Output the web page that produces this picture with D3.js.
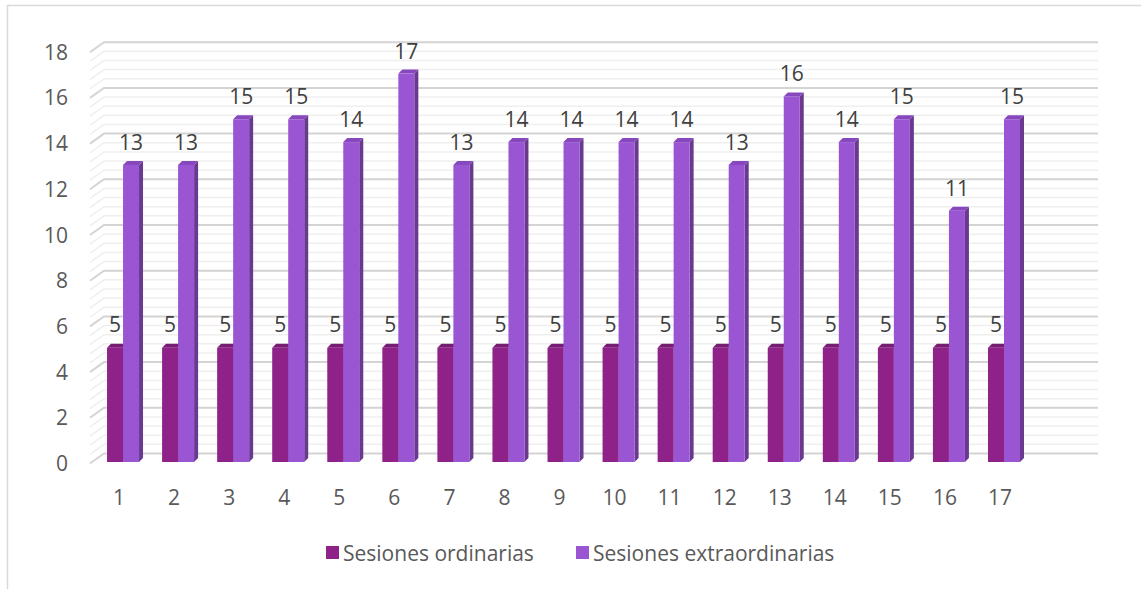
<!DOCTYPE html>
<html>
<head>
<meta charset="utf-8">
<script src="https://cdn.jsdelivr.net/npm/d3@7"></script>
<style>
  body { margin: 0; background: #fff; }
  text { font-family: "Open Sans", "DejaVu Sans", sans-serif; }
</style>
</head>
<body>
<div id="chart-area"></div>
<script>
// Data
// ****
const categories = ["1","2","3","4","5","6","7","8","9","10","11","12","13","14","15","16","17"]
const ordinarias = [5,5,5,5,5,5,5,5,5,5,5,5,5,5,5,5,5]
const extraordinarias = [13,13,15,15,14,17,13,14,14,14,14,13,16,14,15,11,15]
const seriesNames = ["Sesiones ordinarias", "Sesiones extraordinarias"]
const yTicks = [0,2,4,6,8,10,12,14,16,18]

// Config
// ******
const width = 1141, height = 589
const colors = {
  ord:  {front: "#8e2289", top: "#761c72", side: "#5f175b"},
  ext:  {front: "#9a56d2", top: "#8748bd", side: "#68398f"}
}
const depth = 4, barW = 16
const wallDx = 14, wallDy = 10
const fontSize = "21px"

const svg = d3.select("#chart-area")
  .append("svg")
    .attr("width", width)
    .attr("height", height)

// outer frame (right and bottom edges fall outside the picture)
svg.append("rect")
  .attr("x", 7.5).attr("y", 5.5)
  .attr("width", 1200).attr("height", 700)
  .attr("fill", "none")
  .attr("stroke", "#d9d9d9")
  .attr("stroke-width", 1.5)

// Scales
const y = d3.scaleLinear().domain([0, 18]).range([462, 462 - 18 * 22.85])
const x = d3.scaleBand().domain(categories).range([91.5, 91.5 + 17 * 55.06])
const bw = x.bandwidth()

// Gridlines on back + side wall
const minor = d3.range(0, 18.001, 0.4)
const grid = svg.append("g")
minor.forEach(v => {
  const isMajor = Math.abs(v / 2 - Math.round(v / 2)) < 1e-6
  const yb = y(v) - 8.5
  grid.append("path")
    .attr("d", "M90," + (yb + wallDy) + "L" + (90 + wallDx) + "," + yb + "H1098")
    .attr("fill", "none")
    .attr("stroke", isMajor ? "#d4d4d4" : "#efefef")
    .attr("stroke-width", isMajor ? 2 : 1.5)
})

// Y axis labels
svg.append("g").selectAll("text")
  .data(yTicks)
  .enter().append("text")
    .attr("x", 68)
    .attr("y", d => y(d) + 1)
    .attr("text-anchor", "end")
    .attr("dominant-baseline", "central")
    .attr("font-size", fontSize)
    .attr("fill", "#595959")
    .text(d => d)

// X axis labels
svg.append("g").selectAll("text")
  .data(categories)
  .enter().append("text")
    .attr("x", d => x(d) + bw / 2)
    .attr("y", 497)
    .attr("text-anchor", "middle")
    .attr("dominant-baseline", "central")
    .attr("font-size", fontSize)
    .attr("fill", "#595959")
    .text(d => d)

// 3D bar
function bar3d(g, x0, v, c) {
  const base = y(0), top = y(v)
  g.append("path")
    .attr("d", "M" + (x0 + barW) + "," + top + "l" + depth + "," + (-depth) +
      "V" + (base - depth) + "l" + (-depth) + "," + depth + "Z")
    .attr("fill", c.side)
  g.append("path")
    .attr("d", "M" + x0 + "," + top + "l" + depth + "," + (-depth) +
      "h" + barW + "l" + (-depth) + "," + depth + "Z")
    .attr("fill", c.top)
  g.append("rect")
    .attr("x", x0).attr("y", top)
    .attr("width", barW).attr("height", base - top)
    .attr("fill", c.front)
}

const bars = svg.append("g")
categories.forEach((cat, i) => {
  const left = x(cat) + bw / 2 + 4 - barW
  bar3d(bars, left, ordinarias[i], colors.ord)
  bar3d(bars, left + barW, extraordinarias[i], colors.ext)
})

// Data labels
const labels = svg.append("g")
categories.forEach((cat, i) => {
  const left = x(cat) + bw / 2 + 4 - barW
  labels.append("text")
    .attr("x", left + barW / 2)
    .attr("y", y(ordinarias[i]) - 24)
    .attr("text-anchor", "middle")
    .attr("dominant-baseline", "central")
    .attr("font-size", fontSize)
    .attr("fill", "#404040")
    .text(ordinarias[i])
  labels.append("text")
    .attr("x", left + barW * 1.5)
    .attr("y", y(extraordinarias[i]) - 23)
    .attr("text-anchor", "middle")
    .attr("dominant-baseline", "central")
    .attr("font-size", fontSize)
    .attr("fill", "#404040")
    .text(extraordinarias[i])
})

// Legend
const legendX = [326, 576]
const legend = svg.append("g")
seriesNames.forEach((name, i) => {
  legend.append("rect")
    .attr("x", legendX[i]).attr("y", 546)
    .attr("width", 13).attr("height", 13)
    .attr("fill", i === 0 ? colors.ord.front : colors.ext.front)
  legend.append("text")
    .attr("x", legendX[i] + 17)
    .attr("y", 553)
    .attr("dominant-baseline", "central")
    .attr("font-size", fontSize)
    .attr("fill", "#595959")
    .text(name)
})
</script>
</body>
</html>
